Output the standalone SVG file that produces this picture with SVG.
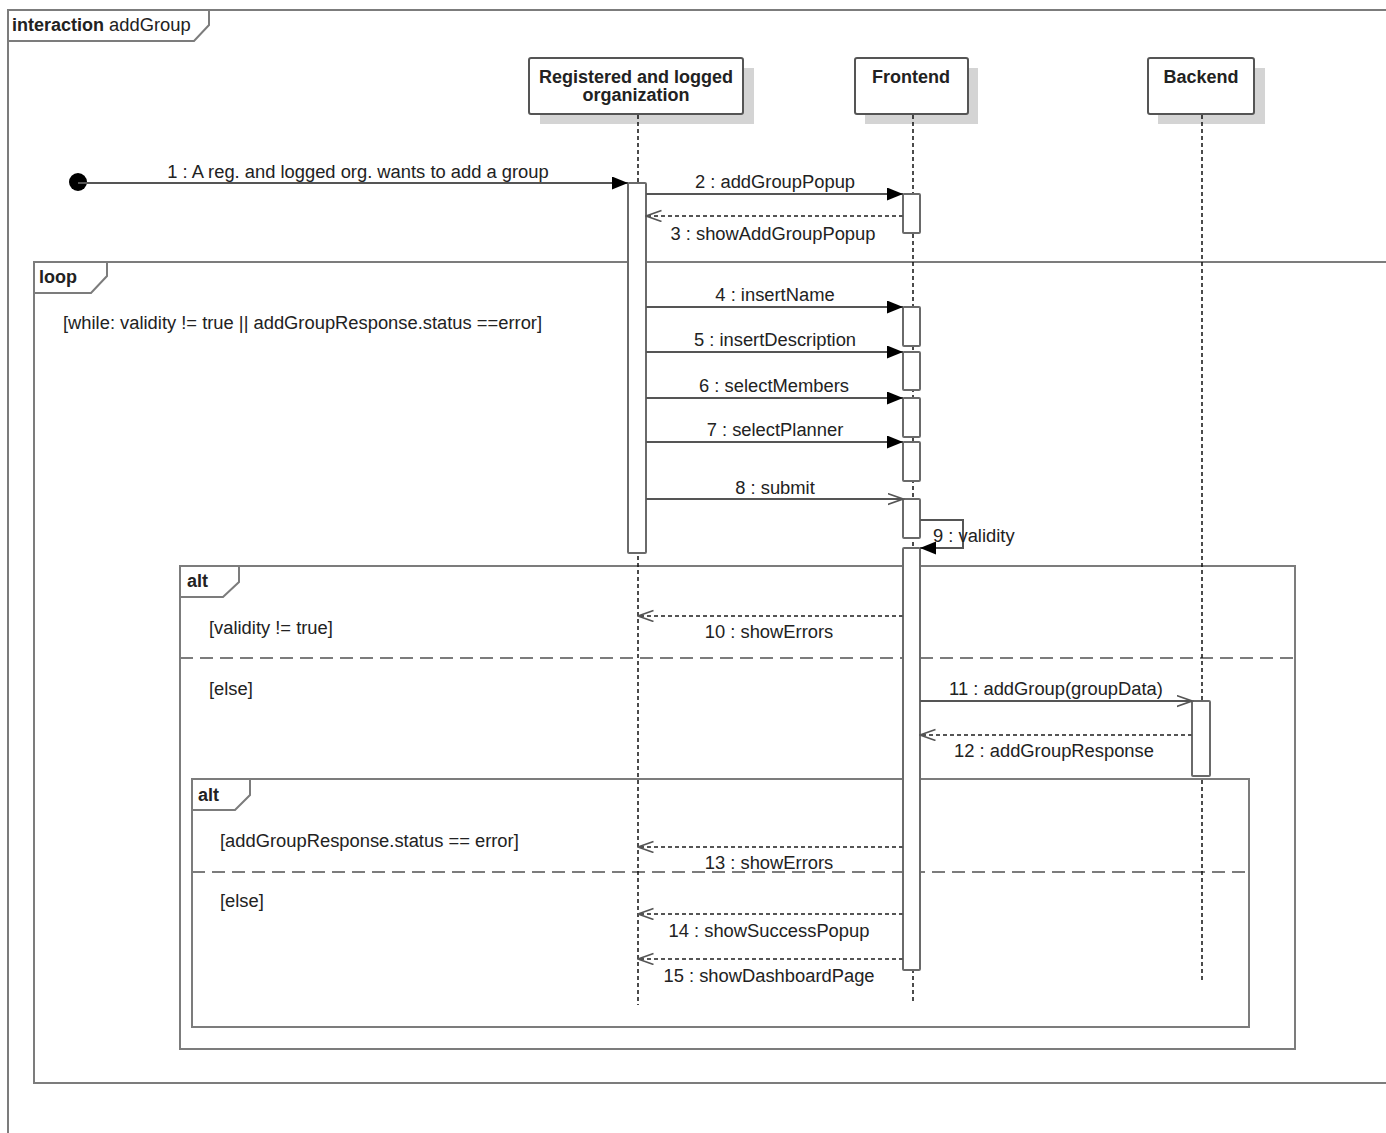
<svg xmlns="http://www.w3.org/2000/svg" width="1386" height="1133" viewBox="0 0 1386 1133">
<defs>
<style>
text{font-family:"Liberation Sans",Arial,sans-serif;font-size:18.35px;fill:#222}
.b{font-weight:bold;font-size:18px}
.frame{fill:none;stroke:#7c7c7c;stroke-width:2}
.sep{fill:none;stroke:#7c7c7c;stroke-width:2;stroke-dasharray:13 7}
.head{fill:#fff;stroke:#555;stroke-width:2}
.shadow{fill:#d4d4d4}
.life{stroke:#111;stroke-width:1.5;stroke-dasharray:4 3}
.bar{fill:#fff;stroke:#6a6a6a;stroke-width:2}
.msg{fill:none;stroke:#555;stroke-width:2}
.ret{fill:none;stroke:#555;stroke-width:2;stroke-dasharray:4 3}
.m{text-anchor:middle}
</style>
<marker id="fill" markerUnits="userSpaceOnUse" markerWidth="17" markerHeight="14" refX="16" refY="6.5" orient="auto">
<path d="M0,0 L16,6.5 L0,13 z" fill="#000"/>
</marker>
<marker id="open" markerUnits="userSpaceOnUse" markerWidth="17" markerHeight="14" refX="15.5" refY="6" orient="auto">
<path d="M0,0.5 L15.5,6 L0,11.5" fill="none" stroke="#555" stroke-width="1.6"/>
</marker>
</defs>
<rect width="1386" height="1133" fill="#fff"/>

<g id="frame-interaction">
<path class="frame" d="M8,1133 V10 H1390"/>
<path class="frame" d="M8,41 H194 L209,25 V10" fill="#fff"/>
<text x="12" y="31"><tspan class="b">interaction</tspan> addGroup</text>
</g>

<g id="frame-loop">
<path class="frame" d="M1390,262 H34 V1083 H1390"/>
<path class="frame" d="M34,293 H91 L107,276 V262"/>
<text class="b" x="39" y="283">loop</text>
<text x="63" y="329">[while: validity != true || addGroupResponse.status ==error]</text>
</g>

<g id="frame-alt1">
<rect class="frame" x="180" y="566" width="1115" height="483"/>
<path class="frame" d="M180,597 H223 L239,582 V566"/>
<text class="b" x="187" y="587">alt</text>
<text x="209" y="634">[validity != true]</text>
<line class="sep" x1="180" y1="658" x2="1295" y2="658"/>
<text x="209" y="695">[else]</text>
</g>

<g id="frame-alt2">
<rect class="frame" x="192" y="779" width="1057" height="248"/>
<path class="frame" d="M192,810 H235 L250,795 V779"/>
<text class="b" x="198" y="801">alt</text>
<text x="220" y="847">[addGroupResponse.status == error]</text>
<line class="sep" x1="192" y1="872" x2="1249" y2="872"/>
<text x="220" y="907">[else]</text>
</g>

<g id="lifeline-org">
<rect class="shadow" x="540" y="68" width="214" height="56"/>
<rect class="head" x="529" y="58" width="214" height="56" rx="2"/>
<text class="b m" x="636" y="83">Registered and logged</text>
<text class="b m" x="636" y="101">organization</text>
<line class="life" x1="638" y1="115" x2="638" y2="1005"/>
</g>

<g id="lifeline-frontend">
<rect class="shadow" x="865" y="68" width="113" height="56"/>
<rect class="head" x="855" y="58" width="113" height="56" rx="2"/>
<text class="b m" x="911" y="83">Frontend</text>
<line class="life" x1="913" y1="115" x2="913" y2="1004"/>
</g>

<g id="lifeline-backend">
<rect class="shadow" x="1158" y="68" width="107" height="56"/>
<rect class="head" x="1148" y="58" width="106" height="56" rx="2"/>
<text class="b m" x="1201" y="83">Backend</text>
<line class="life" x1="1202" y1="115" x2="1202" y2="981"/>
</g>

<g id="activations">
<rect class="bar" x="628" y="183" width="18" height="370" rx="1"/>
<rect class="bar" x="903" y="194" width="17" height="39" rx="1"/>
<rect class="bar" x="903" y="307" width="17" height="39" rx="1"/>
<rect class="bar" x="903" y="352" width="17" height="38" rx="1"/>
<rect class="bar" x="903" y="398" width="17" height="39" rx="1"/>
<rect class="bar" x="903" y="442" width="17" height="39" rx="1"/>
<rect class="bar" x="903" y="499" width="17" height="39" rx="1"/>
<rect class="bar" x="903" y="548" width="17" height="422" rx="1"/>
<rect class="bar" x="1192" y="701" width="18" height="75" rx="1"/>
</g>

<g id="connectors">
<circle cx="78" cy="182" r="9" fill="#000"/>
<line class="msg" x1="78" y1="183" x2="628" y2="183" marker-end="url(#fill)"/>
<text class="m" x="358" y="178">1 : A reg. and logged org. wants to add a group</text>

<line class="msg" x1="646" y1="194" x2="903" y2="194" marker-end="url(#fill)"/>
<text class="m" x="775" y="188">2 : addGroupPopup</text>

<line class="ret" x1="903" y1="216" x2="646" y2="216" marker-end="url(#open)"/>
<text class="m" x="773" y="240">3 : showAddGroupPopup</text>

<line class="msg" x1="646" y1="307" x2="903" y2="307" marker-end="url(#fill)"/>
<text class="m" x="775" y="301">4 : insertName</text>

<line class="msg" x1="646" y1="352" x2="903" y2="352" marker-end="url(#fill)"/>
<text class="m" x="775" y="346">5 : insertDescription</text>

<line class="msg" x1="646" y1="398" x2="903" y2="398" marker-end="url(#fill)"/>
<text class="m" x="774" y="392">6 : selectMembers</text>

<line class="msg" x1="646" y1="442" x2="903" y2="442" marker-end="url(#fill)"/>
<text class="m" x="775" y="436">7 : selectPlanner</text>

<line class="msg" x1="646" y1="499" x2="903" y2="499" marker-end="url(#open)"/>
<text class="m" x="775" y="494">8 : submit</text>

<path class="msg" d="M920,520 H963 V548 H920" marker-end="url(#fill)"/>
<text x="933" y="542">9 : validity</text>

<line class="ret" x1="903" y1="616" x2="638" y2="616" marker-end="url(#open)"/>
<text class="m" x="769" y="638">10 : showErrors</text>

<line class="msg" x1="920" y1="701" x2="1192" y2="701" marker-end="url(#open)"/>
<text class="m" x="1056" y="695">11 : addGroup(groupData)</text>

<line class="ret" x1="1192" y1="735" x2="920" y2="735" marker-end="url(#open)"/>
<text class="m" x="1054" y="757">12 : addGroupResponse</text>

<line class="ret" x1="903" y1="847" x2="638" y2="847" marker-end="url(#open)"/>
<text class="m" x="769" y="869">13 : showErrors</text>

<line class="ret" x1="903" y1="914" x2="638" y2="914" marker-end="url(#open)"/>
<text class="m" x="769" y="937">14 : showSuccessPopup</text>

<line class="ret" x1="903" y1="959" x2="638" y2="959" marker-end="url(#open)"/>
<text class="m" x="769" y="982">15 : showDashboardPage</text>
</g>
</svg>
